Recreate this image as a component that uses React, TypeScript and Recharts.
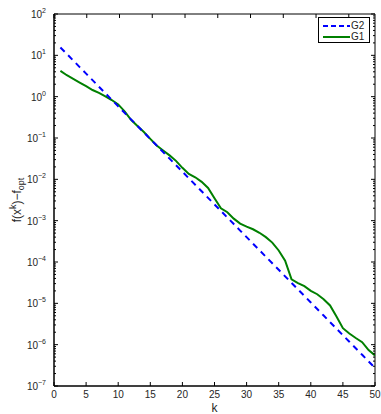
import React from "react";
import { LineChart, Line, XAxis, YAxis, Legend, ReferenceArea } from "recharts";

// iteration index
const iterations = [
  1, 2, 3, 4, 5, 6, 7, 8, 9, 10, 11, 12, 13, 14, 15, 16, 17, 18, 19, 20, 21, 22, 23, 24, 25,
  26, 27, 28, 29, 30, 31, 32, 33, 34, 35, 36, 37, 38, 39, 40, 41, 42, 43, 44, 45, 46, 47, 48, 49, 50,
];

// f(x^k) - f_opt for G2 (dashed blue)
const g2Values = [
  15.5, 10.8, 7.48, 5.19, 3.61, 2.51, 1.74, 1.21, 0.84, 0.583,
  0.405, 0.282, 0.196, 0.136, 0.0944, 0.0656, 0.0456, 0.0317, 0.022, 0.0153,
  0.0106, 0.00738, 0.00513, 0.00356, 0.00247, 0.00172, 0.00119, 8.3e-4, 5.75e-4, 4.0e-4,
  2.78e-4, 1.93e-4, 1.34e-4, 9.3e-5, 6.47e-5, 4.5e-5, 3.13e-5, 2.17e-5, 1.51e-5, 1.05e-5,
  7.28e-6, 5.06e-6, 3.51e-6, 2.44e-6, 1.69e-6, 1.18e-6, 8.18e-7, 5.69e-7, 3.95e-7, 2.74e-7,
];

// f(x^k) - f_opt for G1 (solid green)
const g1Values = [
  4.2, 3.3, 2.7, 2.2, 1.8, 1.45, 1.23, 1.02, 0.83, 0.65,
  0.44, 0.275, 0.195, 0.14, 0.095, 0.066, 0.05, 0.038, 0.028, 0.019,
  0.0135, 0.0112, 0.0087, 0.0062, 0.0035, 0.002, 0.0016, 0.00112, 8.5e-4, 7.2e-4,
  6.2e-4, 5.1e-4, 4.0e-4, 2.95e-4, 1.9e-4, 1.07e-4, 3.8e-5, 3.1e-5, 2.6e-5, 2.0e-5,
  1.66e-5, 1.26e-5, 8.9e-6, 4.8e-6, 2.5e-6, 1.86e-6, 1.45e-6, 1.15e-6, 7.4e-7, 5.5e-7,
];

const xTicks = [0, 5, 10, 15, 20, 25, 30, 35, 40, 45, 50];
const decades = [-7, -6, -5, -4, -3, -2, -1, 0, 1, 2];

const legendItems = [
  { name: "G2", color: "#0000ff", dash: "5 3" },
  { name: "G1", color: "#008000", dash: undefined },
];

const data = iterations.map((k, i) => ({ k, g1: g1Values[i], g2: g2Values[i] }));

// major + minor ticks for the log axis
const yTicks: number[] = [];
decades.forEach((d, i) => {
  yTicks.push(Math.pow(10, d));
  if (i < decades.length - 1) {
    for (let m = 2; m <= 9; m++) yTicks.push(m * Math.pow(10, d));
  }
});

const FONT = "'Liberation Sans', Arial, Helvetica, sans-serif";
const TEXT = "#262626";

const isMajor = (v: number) => {
  const l = Math.log10(v);
  return Math.abs(l - Math.round(l)) < 1e-6;
};

const LeftTick = (props: any) => {
  const { x, y, payload } = props;
  const v = payload.value;
  const major = isMajor(v);
  const exp = Math.round(Math.log10(v));
  return (
    <g>
      <line x1={x} x2={x + (major ? 4 : 2)} y1={y} y2={y} stroke="#000" />
      {major && (
        <text x={x - 8} y={y + 4} textAnchor="end" fontSize={10} fill={TEXT} fontFamily={FONT}>
          10
          <tspan dy={-5} fontSize={7}>
            {exp < 0 ? `\u2212${-exp}` : exp}
          </tspan>
        </text>
      )}
    </g>
  );
};

const RightTick = (props: any) => {
  const { x, y, payload } = props;
  const major = isMajor(payload.value);
  return <line x1={x} x2={x - (major ? 4 : 2)} y1={y} y2={y} stroke="#000" />;
};

const BottomTick = (props: any) => {
  const { x, y, payload } = props;
  return (
    <g>
      <line x1={x} x2={x} y1={y} y2={y - 4} stroke="#000" />
      <text x={x} y={y + 12} textAnchor="middle" fontSize={10} fill={TEXT} fontFamily={FONT}>
        {payload.value}
      </text>
    </g>
  );
};

const TopTick = (props: any) => {
  const { x, y } = props;
  return <line x1={x} x2={x} y1={y} y2={y + 4} stroke="#000" />;
};

const YLabel = () => (
  <text transform="translate(21,200) rotate(-90)" textAnchor="middle" fontSize={12} fill={TEXT} fontFamily={FONT}>
    f(x
    <tspan dy={-5} fontSize={9}>k</tspan>
    <tspan dy={5}>){"\u2212"}f</tspan>
    <tspan dy={3} fontSize={9}>opt</tspan>
  </text>
);

const XLabel = (props: any) => {
  const vb = props.viewBox || {};
  return (
    <text x={vb.x + vb.width / 2} y={412} textAnchor="middle" fontSize={12} fill={TEXT} fontFamily={FONT}>
      k
    </text>
  );
};

const renderLegend = () => (
  <div
    style={{
      border: "1px solid #000",
      background: "#fff",
      width: 52,
      height: 26,
      boxSizing: "border-box",
      fontFamily: FONT,
      fontSize: 10,
      color: TEXT,
      paddingTop: 2,
    }}
  >
    {legendItems.map((it) => (
      <div key={it.name} style={{ display: "flex", alignItems: "center", height: 11 }}>
        <svg width={32} height={10} style={{ display: "block" }}>
          <line x1={4} x2={31} y1={5} y2={5} stroke={it.color} strokeWidth={2} strokeDasharray={it.dash} />
        </svg>
        <span style={{ lineHeight: "10px" }}>{it.name}</span>
      </div>
    ))}
  </div>
);

export default function App() {
  return (
    <div style={{ position: "absolute", left: 0, top: 0, width: 381, height: 414, background: "#fff" }}>
      <LineChart width={381} height={414} data={data} margin={{ top: 13, right: 5, bottom: 0, left: 0 }}>
        <XAxis
          dataKey="k"
          type="number"
          domain={[0, 50]}
          ticks={xTicks}
          interval={0}
          tickSize={0}
          tickMargin={0}
          height={28}
          tick={<BottomTick />}
          axisLine={{ stroke: "#000" }}
          allowDataOverflow
          label={<XLabel />}
        />
        <XAxis
          xAxisId="top"
          orientation="top"
          type="number"
          domain={[0, 50]}
          ticks={xTicks}
          interval={0}
          tickSize={0}
          tickMargin={0}
          height={1}
          tick={<TopTick />}
          axisLine={false}
          allowDataOverflow
        />
        <YAxis
          type="number"
          scale="log"
          domain={[1e-7, 100]}
          ticks={yTicks}
          interval={0}
          tickSize={0}
          tickMargin={0}
          width={54}
          tick={<LeftTick />}
          axisLine={{ stroke: "#000" }}
          allowDataOverflow
          label={<YLabel />}
        />
        <YAxis
          yAxisId="right"
          orientation="right"
          type="number"
          scale="log"
          domain={[1e-7, 100]}
          ticks={yTicks}
          interval={0}
          tickSize={0}
          tickMargin={0}
          width={1}
          tick={<RightTick />}
          axisLine={false}
          allowDataOverflow
        />
        <ReferenceArea x1={0} x2={50} y1={1e-7} y2={100} fill="none" stroke="#000" strokeWidth={1} ifOverflow="visible" />
        <Legend
          layout="vertical"
          align="center"
          verticalAlign="middle"
          content={renderLegend}
          wrapperStyle={{ left: 318, top: 17, width: 53, height: 27 }}
        />
        <Line
          dataKey="g1"
          name="G1"
          stroke="#008000"
          strokeWidth={2}
          dot={false}
          isAnimationActive={false}
        />
        <Line
          dataKey="g2"
          name="G2"
          stroke="#0000ff"
          strokeWidth={2}
          strokeDasharray="6 5"
          dot={false}
          isAnimationActive={false}
        />
      </LineChart>
    </div>
  );
}
